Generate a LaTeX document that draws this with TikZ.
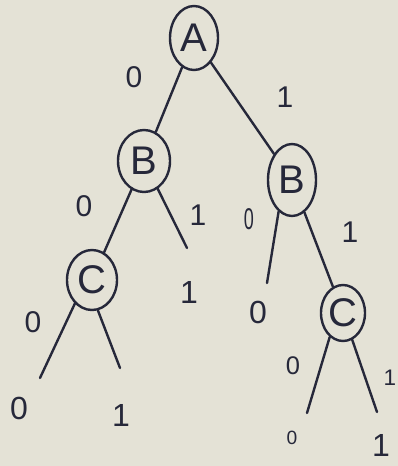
\documentclass[tikz,border=0pt]{standalone}
\usepackage{fontspec}
\setmainfont{Liberation Sans}
\usetikzlibrary{shapes.geometric}
\definecolor{paper}{RGB}{228,226,214}
\definecolor{ink}{RGB}{38,40,58}
\tikzset{
  var/.style={ellipse, draw=ink, line width=2.4pt, inner sep=0pt, text=ink, font=\fontsize{40}{40}\selectfont},
  lbl/.style={text=ink, inner sep=0pt, font=\fontsize{30}{30}\selectfont},
  leaf/.style={text=ink, inner sep=0pt, font=\fontsize{32}{32}\selectfont},
  edge/.style={draw=ink, line width=2.4pt, line cap=round}
}
\begin{document}
\begin{tikzpicture}[x=1pt,y=-1pt]
\fill[paper] (0,0) rectangle (398,466);
\useasboundingbox (0,0) rectangle (398,466);
% decision nodes
\node[var, minimum width=48pt, minimum height=64pt] (A) at (194,38) {A};
\node[var, minimum width=52pt, minimum height=62pt] (B1) at (144,161) {B};
\node[var, minimum width=48pt, minimum height=72pt] (B2) at (292,180) {B};
\node[var, minimum width=50pt, minimum height=60pt] (C1) at (92,280) {C};
\node[var, minimum width=44pt, minimum height=56pt] (C2) at (343,313) {C};
% stub ends
\coordinate (s1) at (187,248);
\coordinate (s2) at (267,283);
\coordinate (s3) at (40,378);
\coordinate (s4) at (120,368);
\coordinate (s5) at (307,413);
\coordinate (s6) at (377,412);
% connectors
\draw[edge] (A) -- (B1);
\draw[edge] (A) -- (B2);
\draw[edge] (B1) -- (C1);
\draw[edge] (B1) -- (s1);
\draw[edge] (B2.-113) -- (s2);
\draw[edge] (B2) -- (C2);
\draw[edge] (C1.-126) -- (s3);
\draw[edge] (C1.-79) -- (s4);
\draw[edge] (C2.-119) -- (s5);
\draw[edge] (C2.-71) -- (s6);
% edge labels
\node[lbl] (lA0) at (134,77) {0};
\node[lbl] (lA1) at (285,97) {1};
\node[lbl] (lB10) at (84,206) {0};
\node[lbl] (lB11) at (198,215) {1};
\node[lbl, xscale=0.6] (lB20) at (249,219) {0};
\node[lbl] (lB21) at (350,232) {1};
\node[lbl] (lC10) at (33,322) {0};
\node[lbl, scale=0.85] (lC20) at (293,366) {0};
\node[lbl, scale=0.75] (lC21) at (390,378) {1};
% leaves
\node[leaf] (t1) at (189,292) {1};
\node[leaf] (t2) at (258,312) {0};
\node[leaf] (t3) at (19,408) {0};
\node[leaf] (t4) at (121,415) {1};
\node[leaf, scale=0.6] (t5) at (292,438) {0};
\node[leaf] (t6) at (381,445) {1};
\end{tikzpicture}
\end{document}
